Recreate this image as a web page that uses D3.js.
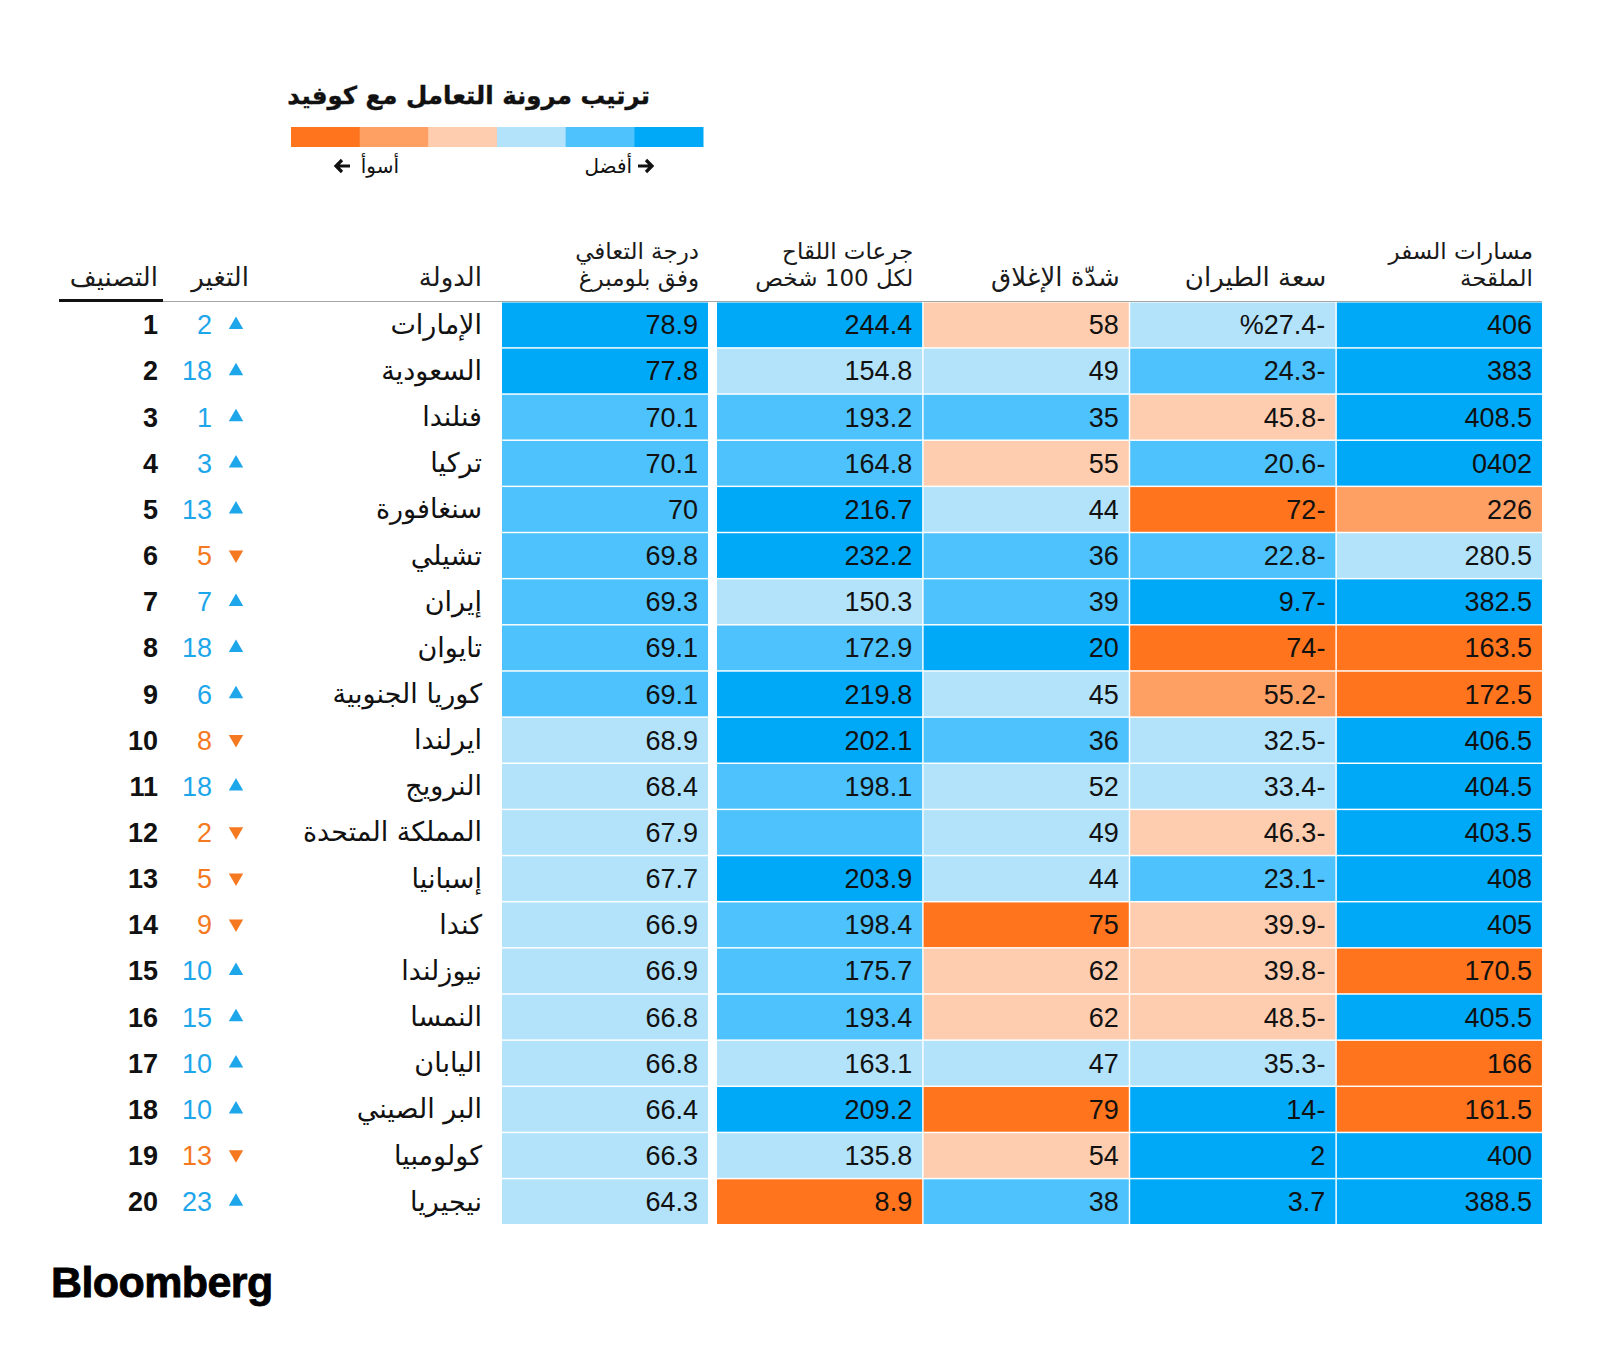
<!DOCTYPE html>
<html>
<head>
<meta charset="utf-8">
<script src="https://cdn.jsdelivr.net/npm/d3@7"></script>
<style>
  html, body { margin: 0; padding: 0; background: #fff; }
  svg { display: block; }
</style>
</head>
<body>
<svg id="chart" width="1600" height="1365"></svg>
<script>
// ---------------- DATA ----------------
const title = "ترتيب مرونة التعامل مع كوفيد";
const legendWorse = "أسوأ";
const legendBetter = "أفضل";
const tierLevels = [1, 2, 3, 4, 5, 6]; // 1 = worst, 6 = best

const headerRank = "التصنيف";
const headerChange = "التغير";
const headerCountry = "الدولة";
const valueColumns = ["recovery", "vaccine", "lockdown", "flight", "travel"];
const valueHeaders = [
  ["درجة التعافي", "وفق بلومبرغ"],
  ["جرعات اللقاح", "لكل 100 شخص"],
  ["شدّة الإغلاق"],
  ["سعة الطيران"],
  ["مسارات السفر", "الملقحة"]
];

const ranks = [1, 2, 3, 4, 5, 6, 7, 8, 9, 10, 11, 12, 13, 14, 15, 16, 17, 18, 19, 20];
const countries = ["الإمارات", "السعودية", "فنلندا", "تركيا", "سنغافورة", "تشيلي", "إيران", "تايوان",
  "كوريا الجنوبية", "ايرلندا", "النرويج", "المملكة المتحدة", "إسبانيا", "كندا", "نيوزلندا", "النمسا",
  "اليابان", "البر الصيني", "كولومبيا", "نيجيريا"];
const changes = [2, 18, 1, 3, 13, 5, 7, 18, 6, 8, 18, 2, 5, 9, 10, 15, 10, 10, 13, 23];
const directions = ["up", "up", "up", "up", "up", "down", "up", "up", "up", "down",
  "up", "down", "down", "down", "up", "up", "up", "up", "down", "up"];

const recoveryScore = ["78.9", "77.8", "70.1", "70.1", "70", "69.8", "69.3", "69.1", "69.1", "68.9",
  "68.4", "67.9", "67.7", "66.9", "66.9", "66.8", "66.8", "66.4", "66.3", "64.3"];
const vaccineDoses = ["244.4", "154.8", "193.2", "164.8", "216.7", "232.2", "150.3", "172.9", "219.8", "202.1",
  "198.1", "", "203.9", "198.4", "175.7", "193.4", "163.1", "209.2", "135.8", "8.9"];
const lockdownSeverity = ["58", "49", "35", "55", "44", "36", "39", "20", "45", "36",
  "52", "49", "44", "75", "62", "62", "47", "79", "54", "38"];
const flightCapacity = ["%27.4-", "24.3-", "45.8-", "20.6-", "72-", "22.8-", "9.7-", "74-", "55.2-", "32.5-",
  "33.4-", "46.3-", "23.1-", "39.9-", "39.8-", "48.5-", "35.3-", "14-", "2", "3.7"];
const vaccinatedTravelRoutes = ["406", "383", "408.5", "0402", "226", "280.5", "382.5", "163.5", "172.5", "406.5",
  "404.5", "403.5", "408", "405", "170.5", "405.5", "166", "161.5", "400", "388.5"];

// tiers (1 = worst ... 6 = best)
const recoveryTier = [6, 6, 5, 5, 5, 5, 5, 5, 5, 4, 4, 4, 4, 4, 4, 4, 4, 4, 4, 4];
const vaccineTier = [6, 4, 5, 5, 6, 6, 4, 5, 6, 6, 5, 5, 6, 5, 5, 5, 4, 6, 4, 1];
const lockdownTier = [3, 4, 5, 3, 4, 5, 5, 6, 4, 5, 4, 4, 4, 1, 3, 3, 4, 1, 3, 5];
const flightTier = [4, 5, 3, 5, 1, 5, 6, 1, 2, 4, 4, 3, 5, 3, 3, 3, 4, 6, 6, 6];
const travelTier = [6, 6, 6, 6, 2, 4, 6, 1, 1, 6, 6, 6, 6, 6, 1, 6, 1, 1, 6, 6];

// ---------------- BUILD ----------------
const values = [recoveryScore, vaccineDoses, lockdownSeverity, flightCapacity, vaccinatedTravelRoutes];
const tiers = [recoveryTier, vaccineTier, lockdownTier, flightTier, travelTier];
const rows = countries.map((c, i) => ({
  country: c, rank: ranks[i], change: changes[i], dir: directions[i],
  cells: valueColumns.map((k, j) => ({ key: k, value: values[j][i], tier: tiers[j][i] }))
}));

const palette = ["#ff741c", "#fea064", "#fecdb0", "#b3e3fb", "#4dc2fc", "#00a9f8"];
const color = d3.scaleOrdinal().domain(tierLevels).range(palette);

const svg = d3.select("#chart");
const numFont = "'Liberation Sans', Arial, sans-serif";
const arFont = "'DejaVu Sans', 'Noto Sans', sans-serif";

// layout scales
const y = d3.scaleBand().domain(countries).range([302.5, 1224]).paddingInner(0.032);
const xVal = d3.scaleBand().domain(valueColumns.slice(1)).range([717, 1542]).paddingInner(0.007);
const colX = k => k === "recovery" ? 502 : xVal(k);
const colW = k => k === "recovery" ? 206 : xVal.bandwidth();

// ---------- Title & legend ----------
svg.append("text")
  .attr("x", 650).attr("y", 104)
  .attr("text-anchor", "end")
  .attr("font-family", arFont).attr("font-weight", "bold").attr("font-size", 24.5)
  .attr("stroke", "#111").attr("stroke-width", 0.4)
  .attr("fill", "#111")
  .text(title);

const lx = d3.scaleBand().domain(tierLevels).range([291, 703]);
svg.append("g").selectAll("rect").data(tierLevels).join("rect")
  .attr("x", d => lx(d)).attr("y", 127)
  .attr("width", lx.bandwidth() + 0.5).attr("height", 20)
  .attr("fill", d => color(d));

// worse label
svg.append("text").attr("x", 399).attr("y", 173).attr("text-anchor", "end")
  .attr("font-family", arFont).attr("font-size", 20).attr("fill", "#111").text(legendWorse);
svg.append("path").attr("d", "M350,166 L336,166 M342,160 L336,166 L342,172")
  .attr("stroke", "#111").attr("stroke-width", 3.2).attr("fill", "none");
// better label
svg.append("text").attr("x", 632).attr("y", 173).attr("text-anchor", "end")
  .attr("font-family", arFont).attr("font-size", 20).attr("fill", "#111").text(legendBetter);
svg.append("path").attr("d", "M638,166 L652,166 M646,160 L652,166 L646,172")
  .attr("stroke", "#111").attr("stroke-width", 3.2).attr("fill", "none");

// ---------- Headers ----------
const hdr = svg.append("g").attr("font-family", arFont).attr("fill", "#1a1a1a");
hdr.append("text").attr("x", 158).attr("y", 286).attr("font-size", 26).attr("text-anchor", "end").text(headerRank);
hdr.append("text").attr("x", 249).attr("y", 286).attr("font-size", 26).attr("text-anchor", "end").text(headerChange);
hdr.append("text").attr("x", 482).attr("y", 286).attr("font-size", 26).attr("text-anchor", "end").text(headerCountry);
valueColumns.forEach((k, j) => {
  const lines = valueHeaders[j];
  const right = colX(k) + colW(k) - 9;
  lines.forEach((ln, li) => {
    const two = lines.length === 2;
    const base = two ? (li === 0 ? 259 : 286) : 286;
    hdr.append("text").attr("x", right).attr("y", base)
      .attr("font-size", two ? 23 : 26)
      .attr("text-anchor", "end").text(ln);
  });
});

// header rule
svg.append("line").attr("x1", 59).attr("x2", 1542).attr("y1", 301.5).attr("y2", 301.5)
  .attr("stroke", "#a6a6a6").attr("stroke-width", 1.2);
svg.append("line").attr("x1", 59).attr("x2", 163).attr("y1", 300.5).attr("y2", 300.5)
  .attr("stroke", "#111").attr("stroke-width", 3);

// ---------- Rows ----------
const rowG = svg.append("g").selectAll("g.row").data(rows).join("g").attr("class", "row")
  .attr("transform", d => `translate(0,${y(d.country)})`);
const bh = y.bandwidth();
const base = bh / 2 + 9.5;

rowG.selectAll("rect").data(d => d.cells).join("rect")
  .attr("x", c => colX(c.key)).attr("y", 0)
  .attr("width", c => colW(c.key)).attr("height", bh)
  .attr("fill", c => color(c.tier));

rowG.selectAll("text.val").data(d => d.cells).join("text").attr("class", "val")
  .attr("x", c => colX(c.key) + colW(c.key) - 10).attr("y", base)
  .attr("text-anchor", "end")
  .attr("font-family", numFont).attr("font-size", 27).attr("fill", "#111")
  .text(c => c.value);

rowG.append("text")
  .attr("x", 158).attr("y", base).attr("text-anchor", "end")
  .attr("font-family", numFont).attr("font-weight", "bold").attr("font-size", 27).attr("fill", "#111")
  .text(d => d.rank);

const upCol = "#1ea6ea", downCol = "#f57920";
rowG.append("text")
  .attr("x", 212).attr("y", base).attr("text-anchor", "end")
  .attr("font-family", numFont).attr("font-size", 27)
  .attr("fill", d => d.dir === "up" ? upCol : downCol)
  .text(d => d.change);

const tri = d3.symbol().type(d3.symbolTriangle).size(90);
rowG.append("path")
  .attr("d", tri)
  .attr("transform", d => `translate(236,${bh / 2 + (d.dir === "up" ? 0 : -1)}) rotate(${d.dir === "up" ? 0 : 180})`)
  .attr("fill", d => d.dir === "up" ? upCol : downCol);

rowG.append("text")
  .attr("x", 482).attr("y", bh / 2 + 9).attr("text-anchor", "end")
  .attr("font-family", arFont).attr("font-size", 27).attr("fill", "#111")
  .text(d => d.country);

// ---------- Logo ----------
svg.append("text").attr("x", 51).attr("y", 1297)
  .attr("font-family", numFont).attr("font-weight", "bold").attr("font-size", 43)
  .attr("letter-spacing", -0.6).attr("stroke", "#000").attr("stroke-width", 0.8).attr("fill", "#000")
  .text("Bloomberg");
</script>
</body>
</html>
